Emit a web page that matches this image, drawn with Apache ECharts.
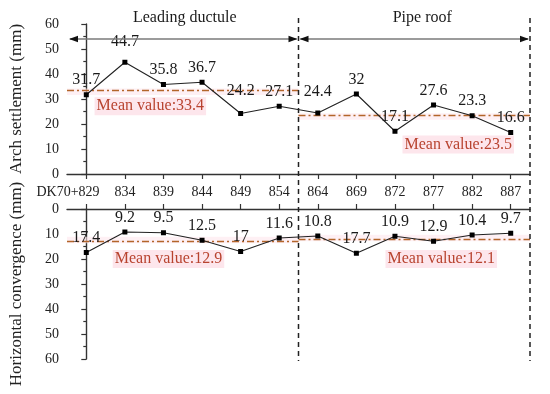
<!DOCTYPE html>
<html><head><meta charset="utf-8">
<script src="https://cdn.jsdelivr.net/npm/echarts@6/dist/echarts.min.js"></script>
<style>html,body{margin:0;padding:0;background:#fff}#c{width:550px;height:394px}</style>
</head><body><div id="c"></div>
<script>
// ---- data ----
const categories = ['DK70+829','834','839','844','849','854','864','869','872','877','882','887'];
const settlement = [31.7,44.7,35.8,36.7,24.2,27.1,24.4,32,17.1,27.6,23.3,16.6];
const convergence = [17.4,9.2,9.5,12.5,17,11.6,10.8,17.7,10.9,12.9,10.4,9.7];
const settlementMeans = [33.4, 23.5];
const convergenceMeans = [12.9, 12.1];
const sections = ['Leading ductule', 'Pipe roof'];

// ---- layout / style ----
const FONT = 'Liberation Serif';
const AX = '#333';
const MEAN_LINE = '#b3652a';
const MEAN_TEXT = '#b8432f';
const PINK = '#fde6ec';
const splitIdx = 5.5;          // boundary between the two sections
const xMin = -0.5, xMax = 11.5;
const firstLabelAt = -0.474;   // the long first label sits left of its tick in the original
const topLabelDist = {1: 10, 4: 12, 6: 11};
const meanLabelPos = {
  top: [[1.66, 27.1], [9.64, 11.8]],
  bottom: [[2.13, 20], [9.2, 20]]
};

const chart = echarts.init(document.getElementById('c'), null, {renderer: 'canvas'});
const idx = categories.map((_, i) => i);
const pts = arr => arr.map((v, i) => [i, v]);

// Shared label row between the panels: the first category's label is carried by the lower
// panel's (top-positioned) axis, the others by the upper panel's axis.
function xAxis(grid, labelValues, margin, fmt) {
  return {
    type: 'value', gridIndex: grid, min: xMin, max: xMax,
    position: grid === 0 ? 'bottom' : 'top',
    splitLine: {show: false},
    axisLine: {show: true, onZero: false, lineStyle: {color: AX, width: 1.4}},
    axisTick: {show: true, customValues: idx, length: 5, lineStyle: {color: AX, width: 1.2}},
    axisLabel: {show: true, customValues: labelValues, margin: margin, hideOverlap: false,
      showMinLabel: true, showMaxLabel: true, formatter: fmt,
      fontFamily: FONT, fontSize: 14, color: '#222'}
  };
}
function yAxis(grid, name, inverse) {
  return {
    type: 'value', gridIndex: grid, min: 0, max: 60, interval: 10, inverse: inverse,
    name: name, nameLocation: 'middle', nameGap: 42,
    nameTextStyle: {fontFamily: FONT, fontSize: 17, color: '#222'},
    splitLine: {show: false},
    axisLine: {show: true, lineStyle: {color: AX, width: 1.4}},
    axisTick: {show: true, length: 5, lineStyle: {color: AX, width: 1.2}},
    minorTick: {show: true, splitNumber: 2, length: 3, lineStyle: {color: AX, width: 1.2}},
    axisLabel: {fontFamily: FONT, fontSize: 14, color: '#222', margin: 8}
  };
}
function meanParts(means, labelPos, bandUp, bandDown) {
  const segs = [[xMin, splitIdx], [splitIdx, xMax]];
  return {
    markLine: {
      silent: true, symbol: 'none', animation: false,
      lineStyle: {color: MEAN_LINE, width: 1.3, type: [7, 3, 2, 3]},
      label: {show: false},
      data: means.map((m, k) => [{coord: [segs[k][0], m]}, {coord: [segs[k][1], m]}])
    },
    markArea: {
      silent: true, animation: false,
      itemStyle: {color: PINK, opacity: 0.6},
      data: means.map((m, k) => [{coord: [segs[k][0], m + bandUp]}, {coord: [segs[k][1], m - bandDown]}])
    },
    markPoint: {
      silent: true, animation: false,
      data: means.map((m, k) => ({
        coord: labelPos[k], symbol: 'rect', symbolSize: 0,
        label: {show: true, position: 'inside', formatter: 'Mean value:' + m,
          fontFamily: FONT, fontSize: 16, color: MEAN_TEXT,
          backgroundColor: PINK, padding: [1, 2]}
      }))
    }
  };
}

const option = {
  animation: false,
  backgroundColor: '#fff',
  textStyle: {fontFamily: FONT},
  grid: [
    {left: 64, right: 20, top: 24, height: 150},
    {left: 64, right: 20, top: 209, height: 150}
  ],
  xAxis: [
    xAxis(0, idx.slice(1), 11, v => categories[Math.round(v)]),
    xAxis(1, [firstLabelAt], 10, () => categories[0])
  ],
  yAxis: [yAxis(0, 'Arch settlement (mm)', false), yAxis(1, 'Horizontal convergence (mm)', true)],
  series: [
    Object.assign({
      type: 'line', xAxisIndex: 0, yAxisIndex: 0,
      data: pts(settlement).map((p, i) => ({value: p,
        label: {distance: topLabelDist[i] !== undefined ? topLabelDist[i] : 4}})),
      symbol: 'rect', symbolSize: 5, itemStyle: {color: '#000'},
      lineStyle: {color: '#222', width: 1.1},
      label: {show: true, position: 'top', fontFamily: FONT, fontSize: 16, color: '#1a1a1a'},
      z: 5
    }, meanParts(settlementMeans, meanLabelPos.top, 0.8, 1.8)),
    Object.assign({
      type: 'line', xAxisIndex: 1, yAxisIndex: 1,
      data: pts(convergence),
      symbol: 'rect', symbolSize: 5, itemStyle: {color: '#000'},
      lineStyle: {color: '#222', width: 1.1},
      label: {show: true, position: 'top', distance: 4, fontFamily: FONT, fontSize: 16, color: '#1a1a1a'},
      z: 5
    }, meanParts(convergenceMeans, meanLabelPos.bottom, -1.8, -0.8))
  ]
};
chart.setOption(option);

// ---- annotations: section dividers, arrows and section titles ----
const px = v => chart.convertToPixel({xAxisIndex: 0}, v);
const xS = px(xMin), xD = px(splitIdx), xE = px(xMax);
const arrowY = 39, dTop = 18, dBot = 361;
function head(x, dir) {
  return {type: 'polygon', shape: {points: [[x, arrowY], [x - dir * 9, arrowY - 3.2], [x - dir * 9, arrowY + 3.2]]},
    style: {fill: '#111'}, z: 20};
}
const graphics = [
  {type: 'line', shape: {x1: xD, y1: dTop, x2: xD, y2: dBot}, style: {stroke: '#222', lineWidth: 1.5, lineDash: [5, 4]}, z: 20},
  {type: 'line', shape: {x1: xE, y1: dTop, x2: xE, y2: dBot}, style: {stroke: '#222', lineWidth: 1.5, lineDash: [5, 4]}, z: 20},
  {type: 'line', shape: {x1: xS + 3, y1: arrowY, x2: xD - 2, y2: arrowY}, style: {stroke: '#7a7a7a', lineWidth: 1.4}, z: 19},
  {type: 'line', shape: {x1: xD + 2, y1: arrowY, x2: xE - 2, y2: arrowY}, style: {stroke: '#7a7a7a', lineWidth: 1.4}, z: 19},
  head(xS + 2, -1), head(xD - 1, 1), head(xD + 1, -1), head(xE - 1, 1),
  {type: 'text', x: (xS + xD) / 2 + 2, y: 18, z: 20,
    style: {text: sections[0], font: '16px "Liberation Serif"', fill: '#1a1a1a', align: 'center', verticalAlign: 'middle'}},
  {type: 'text', x: (xD + xE) / 2 + 8, y: 18, z: 20,
    style: {text: sections[1], font: '16px "Liberation Serif"', fill: '#1a1a1a', align: 'center', verticalAlign: 'middle'}}
];
chart.setOption({graphic: graphics});
</script>
</body></html>
